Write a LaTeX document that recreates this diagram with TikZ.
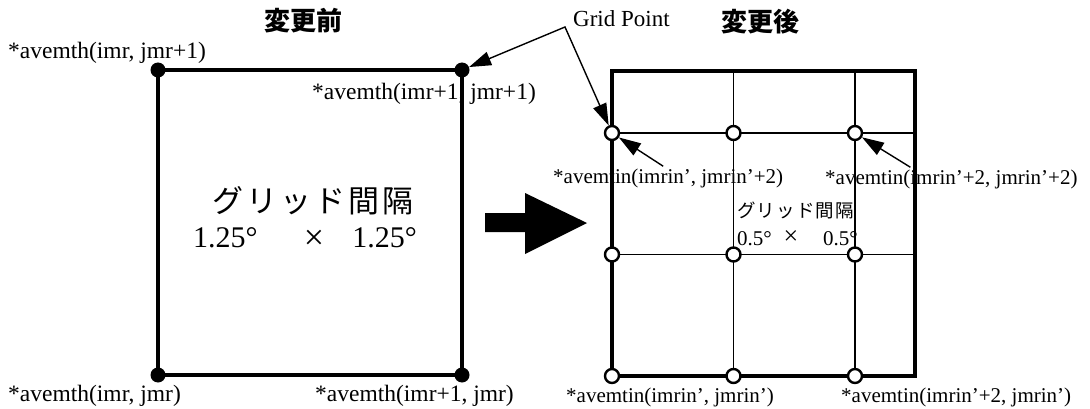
\documentclass[tikz,border=0pt]{standalone}
\usepackage{fontspec}
\setmainfont{Liberation Serif}
\newfontfamily\cjk{Noto Sans CJK JP}
\newfontfamily\cjkwide[LetterSpace=10]{Noto Sans CJK JP}
\newfontfamily\cjknarrow[LetterSpace=6]{Noto Sans CJK JP}
\usetikzlibrary{arrows.meta}
\tikzset{
  lab/.style={inner sep=0pt, anchor=base west, font=\fontsize{23.5}{24}\selectfont},
  labin/.style={inner sep=0pt, anchor=base west, font=\fontsize{21}{22}\selectfont},
  ttl/.style={inner sep=0pt, font=\cjk\bfseries\fontsize{26}{26}\selectfont},
  bdot/.style={circle, fill=black, minimum size=15pt, inner sep=0pt},
  wdot/.style={circle, draw=black, fill=white, line width=2.4pt, minimum size=14pt, inner sep=0pt},
  thickline/.style={line width=4pt},
  thinline/.style={line width=1.8pt},
  ptr/.style={line width=1.4pt, -{Triangle[length=22pt,width=14pt]}},
  dptr/.style={line width=1.4pt, {Triangle[length=22pt,width=14pt]}-{Triangle[length=22pt,width=14pt]}},
  bigtxt/.style={inner sep=0pt, font=\fontsize{30}{30}\selectfont},
  smtxt/.style={inner sep=0pt, font=\fontsize{21}{21}\selectfont}
}
\begin{document}
\begin{tikzpicture}[x=1pt,y=-1pt]
\useasboundingbox (0,0) rectangle (1090,409);
\fill[white] (0,0) rectangle (1090,409);

% titles
\node[ttl] (tbefore) at (303,21) {変更前};
\node[ttl] (tafter) at (760,22) {変更後};

% ---------- left square ----------
\draw[thickline] (158,70) rectangle (462,375);
\node[bdot] (d01) at (158,70) {};
\node[bdot] (d11) at (462,70) {};
\node[bdot] (d00) at (158,375) {};
\node[bdot] (d10) at (462,375) {};

\node[lab] (l01) at (8,59) {*avemth(imr, jmr+1)};
\node[lab] (l11) at (312,100) {*avemth(imr+1, jmr+1)};
\node[lab] (l00) at (8,401) {*avemth(imr, jmr)};
\node[lab] (l10) at (315,401) {*avemth(imr+1, jmr)};

\node[inner sep=0pt, font=\cjkwide\fontsize{31}{31}\selectfont] (ga1) at (313,201) {グリッド間隔};
\node[bigtxt, anchor=base west] (ga2) at (193,247) {1.25°};
\node[inner sep=0pt, font=\fontsize{36}{36}\selectfont] (gax) at (314,240) {×};
\node[bigtxt, anchor=base east] (ga3) at (417,247) {1.25°};

% big arrow
\fill[black] (485,213) -- (525,213) -- (525,193) -- (587,223) -- (525,254) -- (525,232) -- (485,232) -- cycle;

% ---------- right grid ----------
\node[labin] (m02) at (553,183) {*avemtin(imrin’, jmrin’+2)};
\node[labin] (m22) at (825,184) {*avemtin(imrin’+2, jmrin’+2)};
\node[labin] (m00) at (566,402) {*avemtin(imrin’, jmrin’)};
\node[labin] (m20) at (841,402) {*avemtin(imrin’+2, jmrin’)};

\node[inner sep=0pt, anchor=base west, font=\cjknarrow\fontsize{18.5}{18.5}\selectfont] (gb1) at (737,218) {グリッド間隔};
\node[smtxt, anchor=base west] (gb2) at (737,245) {0.5°};
\node[inner sep=0pt, font=\fontsize{26}{26}\selectfont] (gbx) at (791,238) {×};
\node[smtxt, anchor=base east] (gb3) at (858,245) {0.5°};

\draw[thinline] (612,133) -- (915,133);
\draw[thinline] (612,254.5) -- (915,254.5);
\draw[thinline] (733.5,71) -- (733.5,376);
\draw[thinline] (855,71) -- (855,376);
\draw[thickline] (612,71) rectangle (915,376);

\foreach \i/\x in {0/612,1/733.5,2/855}{
  \foreach \j/\y in {0/376,1/254.5,2/133}{
    \node[wdot] (g\i\j) at (\x,\y) {};
  }
}

% Grid Point label and pointers
\node[inner sep=0pt, anchor=base west, font=\fontsize{23}{23}\selectfont] (gp) at (573,27) {Grid Point};
\coordinate (bend) at (565,27);
\draw[dptr] (d11) -- (bend) -- (g02);

\draw[ptr] ([xshift=-5pt,yshift=2pt]m02.north) -- (g02);
\draw[ptr] ([xshift=-41pt,yshift=2pt]m22.north) -- (g22);
\end{tikzpicture}
\end{document}
